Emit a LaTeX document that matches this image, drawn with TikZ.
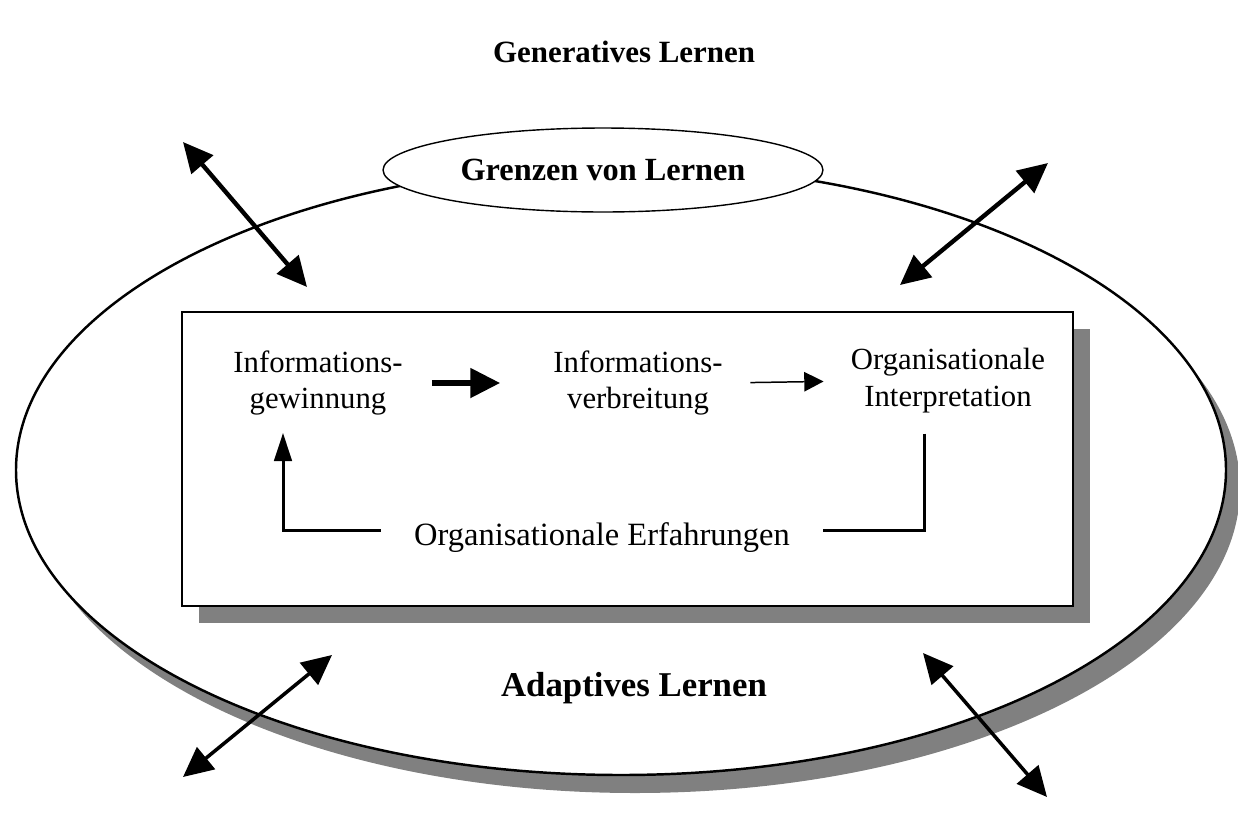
\documentclass[tikz,border=0pt]{standalone}
\usepackage{fontspec}
\setmainfont{Liberation Serif}
\usetikzlibrary{calc,arrows.meta,shapes,shadows}

\begin{document}
\begin{tikzpicture}[x=0.02cm,y=-0.02cm,
  ttl/.style={font=\fontsize{17.6}{21}\selectfont\bfseries},
  txt/.style={align=center,inner sep=0pt,font=\fontsize{17.5}{21}\selectfont},
  box/.style={draw,line width=1pt,fill=white,minimum width=17.82cm,minimum height=5.88cm,
    drop shadow={shadow xshift=0.34cm,shadow yshift=-0.34cm,fill=black!50,opacity=1}},
  dbl/.style={{Triangle[length=17pt,width=16pt]}-{Triangle[length=17pt,width=16pt]},line width=2.5pt},
  fb/.style={line width=1.7pt}]
  \useasboundingbox (0,0) rectangle (1238,829);

  \node[ttl] (gen) at (624,52) {Generatives Lernen};

  % outer ellipse and its shadow
  \fill[black!50] (635,488) ellipse [x radius=605, y radius=305];
  \draw[line width=1.4pt,fill=white] (621,470) ellipse [x radius=605, y radius=305];

  \node[ellipse,draw,line width=0.8pt,fill=white,minimum width=8.8cm,minimum height=1.68cm,ttl,font=\fontsize{18.4}{21}\selectfont\bfseries] (grenz) at (603,170) {Grenzen von Lernen};

  \node[box] (proc) at (627.5,459) {};

  \node[txt] (gew) at (318,383) {Informations-\\gewinnung};
  \node[txt] (verb) at (638,383) {Informations-\\verbreitung};
  \node[txt] (interp) at (948,381) {Organisationale\\Interpretation};
  \node[txt,font=\fontsize{18.5}{21}\selectfont,inner xsep=0.66cm] (erf) at (602,538) {Organisationale Erfahrungen};

  \draw[-{Triangle[length=17pt,width=16.5pt]},line width=3pt,shorten <=0.58cm,shorten >=1.06cm] (gew.east) -- (verb.west);
  \draw[-{Triangle[length=11pt,width=11pt]},line width=0.85pt,shorten <=0.55cm,shorten >=0.54cm] (verb.east) -- (interp.west);
  \draw[fb,shorten <=0.4cm] ([xshift=-0.48cm]interp.south) |- ([yshift=0.16cm]erf.east);
  \draw[fb,-{Triangle[length=16pt,width=10pt]},shorten >=0.34cm] ([yshift=0.16cm]erf.west) -| ([xshift=-0.7cm]gew.south);

  \node[ttl,font=\fontsize{19.8}{21}\selectfont\bfseries] (adapt) at (634,688) {Adaptives Lernen};

  % arrows across the border
  \coordinate (tlo) at (183,142);
  \coordinate (tli) at (307,287);
  \coordinate (tro) at (1048,163);
  \coordinate (tri) at (900,285);
  \coordinate (bli) at (332,655);
  \coordinate (blo) at (183,777);
  \coordinate (bri) at (923,653);
  \coordinate (bro) at (1047,797);
  \draw[dbl] (tlo) -- (tli);
  \draw[dbl] (tro) -- (tri);
  \draw[dbl,line width=2pt] (bli) -- (blo);
  \draw[dbl,line width=2pt] (bri) -- (bro);
\end{tikzpicture}
\end{document}
